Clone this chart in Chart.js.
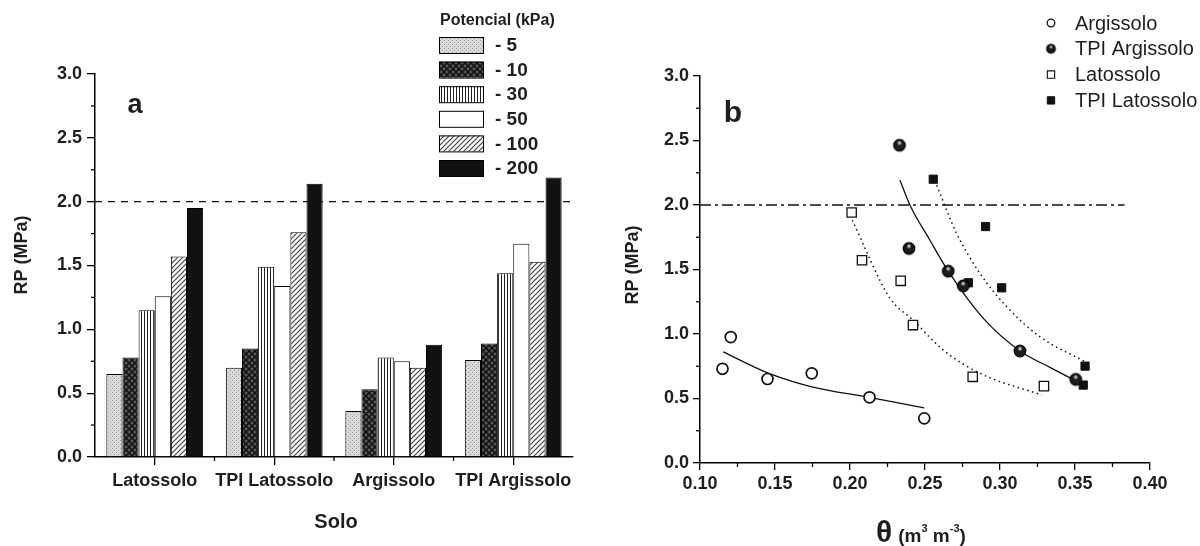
<!DOCTYPE html>
<html lang="pt">
<head>
<meta charset="UTF-8">
<title>Resistência à penetração</title>
<script src="https://cdn.jsdelivr.net/npm/chart.js"></script>
<style>
  body { margin: 0; background: #fff; }
  #wrap { position: relative; width: 1200px; height: 546px; }
  #wrap canvas { position: absolute; top: 0; }
</style>
</head>
<body>
<div id="wrap">
  <canvas id="chartA" width="600" height="546" style="left:0"></canvas>
  <canvas id="chartB" width="600" height="546" style="left:600px"></canvas>
</div>
<script>
// ---- painel a: RP por solo e potencial
const solos = ['Latossolo', 'TPI Latossolo', 'Argissolo', 'TPI Argissolo'];
const potenciais = ['- 5', '- 10', '- 30', '- 50', '- 100', '- 200'];
const rp5   = [0.65, 0.70, 0.36, 0.76];
const rp10  = [0.78, 0.85, 0.53, 0.89];
const rp30  = [1.15, 1.49, 0.78, 1.44];
const rp50  = [1.26, 1.34, 0.75, 1.67];
const rp100 = [1.57, 1.76, 0.70, 1.53];
const rp200 = [1.95, 2.14, 0.88, 2.19];
const rpTickLabels = ['0.0', '0.5', '1.0', '1.5', '2.0', '2.5', '3.0'];
const limiteRP = 2.0;

// ---- painel b: RP x umidade
const argTheta = [0.115, 0.1205, 0.145, 0.1745, 0.213, 0.2495];
const argRP    = [0.73, 0.976, 0.651, 0.695, 0.509, 0.346];
const tpiArgTheta = [0.233, 0.2393, 0.2655, 0.2755, 0.3133, 0.3505];
const tpiArgRP    = [2.463, 1.663, 1.487, 1.373, 0.868, 0.648];
const latTheta = [0.2011, 0.208, 0.2338, 0.242, 0.2818, 0.3293];
const latRP    = [1.942, 1.572, 1.412, 1.069, 0.668, 0.596];
const tpiLatTheta = [0.2555, 0.2904, 0.3011, 0.2789, 0.3567, 0.3555];
const tpiLatRP    = [2.2, 1.833, 1.358, 1.397, 0.751, 0.604];

// curvas ajustadas
const argFitTheta = [0.1155, 0.1451, 0.1745, 0.2129, 0.2495];
const argFitRP    = [0.862, 0.699, 0.591, 0.509, 0.428];
const tpiArgFitTheta = [0.2333, 0.24, 0.2533, 0.2655, 0.2889, 0.3133, 0.3333, 0.3505];
const tpiArgFitRP    = [2.192, 1.998, 1.727, 1.487, 1.121, 0.868, 0.741, 0.637];
const latFitTheta = [0.2015, 0.2267, 0.242, 0.2622, 0.2867, 0.3278];
const latFitRP    = [1.882, 1.276, 1.108, 0.875, 0.695, 0.527];
const tpiLatFitTheta = [0.2578, 0.2711, 0.2867, 0.3045, 0.3267, 0.3567];
const tpiLatFitRP    = [2.153, 1.779, 1.469, 1.211, 0.978, 0.785];

const thetaTickLabels = ['0.10', '0.15', '0.20', '0.25', '0.30', '0.35', '0.40'];
const limiteTheta = [0.10, 0.383];
const solosB = ['Argissolo', 'TPI Argissolo', 'Latossolo', 'TPI Latossolo'];

const FONT = "'Liberation Sans', Arial, sans-serif";
const INK = '#1e1e1e';

function tile(w, h, draw) {
  const c = document.createElement('canvas');
  c.width = w; c.height = h;
  draw(c.getContext('2d'), w, h);
  return c;
}

function zip(xs, ys) {
  return xs.map((x, i) => ({ x: x, y: ys[i] }));
}

// minor ticks halfway between the major ones
const minorTicks = {
  id: 'minorTicks',
  afterDraw(chart, args, opts) {
    const ctx = chart.ctx;
    const { x, y } = chart.scales;
    ctx.save();
    ctx.strokeStyle = '#000';
    ctx.lineWidth = 1.3;
    for (let i = 0; i < y.ticks.length - 1; i++) {
      const p = (y.getPixelForTick(i) + y.getPixelForTick(i + 1)) / 2;
      ctx.beginPath(); ctx.moveTo(y.right - opts.len, p); ctx.lineTo(y.right, p); ctx.stroke();
    }
    for (let i = 0; i < x.ticks.length - 1; i++) {
      const p = (x.getPixelForTick(i) + x.getPixelForTick(i + 1)) / 2;
      ctx.beginPath(); ctx.moveTo(p, x.top); ctx.lineTo(p, x.top + opts.len); ctx.stroke();
    }
    ctx.restore();
  }
};

// horizontal reference line at RP = 2 MPa
const refLine = {
  id: 'refLine',
  beforeDatasetsDraw(chart, args, opts) {
    const { ctx, chartArea, scales } = chart;
    const py = scales.y.getPixelForValue(limiteRP);
    const x0 = opts.from != null ? scales.x.getPixelForValue(opts.from) : chartArea.left;
    const x1 = opts.to != null ? scales.x.getPixelForValue(opts.to) : chartArea.right;
    ctx.save();
    ctx.strokeStyle = '#111';
    ctx.lineWidth = 1.4;
    ctx.setLineDash(opts.dash);
    ctx.beginPath(); ctx.moveTo(x0, py); ctx.lineTo(x1, py); ctx.stroke();
    ctx.restore();
  }
};

// ================= painel a =================
const ctxA = document.getElementById('chartA').getContext('2d');

const fillsA = [
  ctxA.createPattern(tile(4, 4, (g) => {
    g.fillStyle = '#d9d9d9'; g.fillRect(0, 0, 4, 4);
    g.fillStyle = '#9c9c9c'; g.fillRect(0, 0, 1, 1); g.fillRect(2, 2, 1, 1);
  }), 'repeat'),
  ctxA.createPattern(tile(6, 6, (g) => {
    g.fillStyle = '#555'; g.fillRect(0, 0, 6, 6);
    g.strokeStyle = '#111'; g.lineWidth = 1.5;
    g.beginPath(); g.moveTo(0, 0); g.lineTo(6, 6); g.moveTo(0, 6); g.lineTo(6, 0); g.stroke();
  }), 'repeat'),
  ctxA.createPattern(tile(3, 2, (g) => {
    g.fillStyle = '#fff'; g.fillRect(0, 0, 3, 2);
    g.fillStyle = '#222'; g.fillRect(0, 0, 1, 2);
  }), 'repeat'),
  '#ffffff',
  ctxA.createPattern(tile(5, 5, (g) => {
    g.fillStyle = '#fff'; g.fillRect(0, 0, 5, 5);
    g.strokeStyle = '#444'; g.lineWidth = 1.2;
    g.beginPath(); g.moveTo(-1, 6); g.lineTo(6, -1); g.moveTo(-1, 1); g.lineTo(1, -1); g.moveTo(4, 6); g.lineTo(6, 4); g.stroke();
  }), 'repeat'),
  '#111111'
];

const textA = {
  id: 'textA',
  afterDraw(chart) {
    const ctx = chart.ctx;
    ctx.save();
    ctx.fillStyle = INK;
    ctx.textBaseline = 'middle';
    ctx.textAlign = 'center';
    ctx.font = 'bold 27px ' + FONT;
    ctx.fillText('a', 135, 106);
    ctx.font = 'bold 20px ' + FONT;
    ctx.fillText('Solo', 336, 522);
    ctx.save();
    ctx.translate(22, 255);
    ctx.rotate(-Math.PI / 2);
    ctx.font = 'bold 18px ' + FONT;
    ctx.fillText('RP (MPa)', 0, 0);
    ctx.restore();

    // legenda
    ctx.textAlign = 'left';
    ctx.font = 'bold 16px ' + FONT;
    ctx.fillText('Potencial (kPa)', 440, 21);
    ctx.font = 'bold 19px ' + FONT;
    chart.data.datasets.forEach((ds, i) => {
      const cy = 45 + i * 24.6;
      ctx.fillStyle = ds.backgroundColor;
      ctx.fillRect(439, cy - 8, 44, 16);
      ctx.strokeStyle = '#000';
      ctx.lineWidth = 1;
      ctx.strokeRect(439.5, cy - 7.5, 44, 16);
      ctx.fillStyle = INK;
      ctx.fillText(ds.label, 495, cy + 1);
    });
    ctx.restore();
  }
};

new Chart(ctxA, {
  type: 'bar',
  data: {
    labels: solos,
    datasets: [rp5, rp10, rp30, rp50, rp100, rp200].map((vals, i) => ({
      label: potenciais[i],
      data: vals,
      backgroundColor: fillsA[i],
      borderColor: '#000',
      borderWidth: 1,
      categoryPercentage: 0.81,
      barPercentage: 1.0
    }))
  },
  options: {
    responsive: false,
    animation: false,
    layout: { padding: { top: 74, right: 27, left: 0, bottom: 0 } },
    plugins: {
      legend: { display: false },
      tooltip: { enabled: false },
      minorTicks: { len: 4 },
      refLine: { dash: [7, 6] }
    },
    scales: {
      x: {
        grid: { drawOnChartArea: false, offset: false, tickLength: 8, color: '#000', lineWidth: 1.3 },
        border: { color: '#000', width: 1.5 },
        ticks: { font: { family: FONT, size: 18, weight: 'bold' }, color: INK, padding: 5, maxRotation: 0, autoSkip: false },
        afterFit(s) { s.height = 89; }
      },
      y: {
        min: 0, max: 3,
        grid: { drawOnChartArea: false, tickLength: 8, color: '#000', lineWidth: 1.3 },
        border: { color: '#000', width: 1.5 },
        ticks: { stepSize: 0.5, callback: (v, i) => rpTickLabels[i], font: { family: FONT, size: 18, weight: 'bold' }, color: INK, padding: 5 },
        afterFit(s) { s.width = 95; }
      }
    }
  },
  plugins: [refLine, minorTicks, textA]
});

// ================= painel b =================
const ctxB = document.getElementById('chartB').getContext('2d');

function sphere(r) {
  const s = Math.ceil(r * 2 + 4);
  return tile(s, s, (g) => {
    const c = s / 2;
    g.beginPath(); g.arc(c, c, r, 0, Math.PI * 2);
    g.fillStyle = '#1c1c1c'; g.fill();
    g.lineWidth = 1.2; g.strokeStyle = '#000'; g.stroke();
    const hy = c - r * 0.4, hr = r * 0.45;
    const hl = g.createRadialGradient(c, hy, 0, c, hy, hr);
    hl.addColorStop(0, 'rgba(255,255,255,1)');
    hl.addColorStop(1, 'rgba(255,255,255,0)');
    g.fillStyle = hl;
    g.beginPath(); g.arc(c, hy, hr, 0, Math.PI * 2); g.fill();
  });
}

const markers = [
  { pointStyle: 'circle', pointRadius: 5.5, pointBorderWidth: 1.7, pointBorderColor: '#111', pointBackgroundColor: '#fff' },
  { pointStyle: sphere(5.8), pointRadius: 6, pointBorderWidth: 0, pointBorderColor: '#111', pointBackgroundColor: '#222' },
  { pointStyle: 'rect', pointRadius: 6.6, pointBorderWidth: 1.3, pointBorderColor: '#111', pointBackgroundColor: '#fff' },
  { pointStyle: 'rect', pointRadius: 5.8, pointBorderWidth: 1, pointBorderColor: '#111', pointBackgroundColor: '#111' }
];

function pointSet(label, xs, ys, m) {
  return Object.assign({ label: label, data: zip(xs, ys), showLine: false }, m);
}

function fitSet(xs, ys, dash) {
  return {
    label: 'ajuste',
    data: zip(xs, ys),
    showLine: true,
    pointRadius: 0,
    borderColor: '#111',
    borderWidth: dash.length ? 1.5 : 1.3,
    borderDash: dash,
    cubicInterpolationMode: 'monotone',
    fill: false
  };
}

const textB = {
  id: 'textB',
  afterDraw(chart) {
    const ctx = chart.ctx;
    ctx.save();
    ctx.fillStyle = INK;
    ctx.textBaseline = 'middle';
    ctx.textAlign = 'center';
    ctx.font = 'bold 30px ' + FONT;
    ctx.fillText('b', 133, 114);
    ctx.save();
    ctx.translate(33, 265);
    ctx.rotate(-Math.PI / 2);
    ctx.font = 'bold 18px ' + FONT;
    ctx.fillText('RP (MPa)', 0, 0);
    ctx.restore();

    // título do eixo x: θ (m³ m⁻³)
    ctx.textAlign = 'left';
    ctx.textBaseline = 'alphabetic';
    let x = 276, base = 542;
    const part = (t, size, dy) => {
      ctx.font = 'bold ' + size + 'px ' + FONT;
      ctx.fillText(t, x, base + dy);
      x += ctx.measureText(t).width;
    };
    part('θ', 30, 0);
    x += 6;
    part('(m', 19, 0);
    part('3', 11, -10);
    part(' m', 19, 0);
    part('-3', 11, -10);
    part(')', 19, 0);

    // legenda
    ctx.textBaseline = 'middle';
    ctx.font = '20px ' + FONT;
    const legendMarkers = [
      { style: 'circle', r: 3.8, bw: 1.3, bg: '#fff' },
      { style: sphere(4.3), r: 4.5, bw: 0, bg: '#222' },
      { style: 'rect', r: 5.2, bw: 1.1, bg: '#fff' },
      { style: 'rect', r: 5.2, bw: 1, bg: '#111' }
    ];
    solosB.forEach((name, i) => {
      const cy = 23 + i * 25.8;
      const m = legendMarkers[i];
      ctx.fillStyle = m.bg;
      ctx.strokeStyle = '#111';
      ctx.lineWidth = m.bw;
      Chart.helpers.drawPoint(ctx, { pointStyle: m.style, radius: m.r, borderWidth: m.bw, rotation: 0 }, 451, cy);
      ctx.fillStyle = INK;
      ctx.fillText(name, 475, cy + 1);
    });
    ctx.restore();
  }
};

new Chart(ctxB, {
  type: 'scatter',
  data: {
    datasets: [
      pointSet(solosB[0], argTheta, argRP, markers[0]),
      pointSet(solosB[1], tpiArgTheta, tpiArgRP, markers[1]),
      pointSet(solosB[2], latTheta, latRP, markers[2]),
      pointSet(solosB[3], tpiLatTheta, tpiLatRP, markers[3]),
      fitSet(argFitTheta, argFitRP, []),
      fitSet(tpiArgFitTheta, tpiArgFitRP, []),
      fitSet(latFitTheta, latFitRP, [1.5, 3.5]),
      fitSet(tpiLatFitTheta, tpiLatFitRP, [1.5, 3.5])
    ]
  },
  options: {
    responsive: false,
    animation: false,
    layout: { padding: { top: 76, right: 50, left: 0, bottom: 0 } },
    plugins: {
      legend: { display: false },
      tooltip: { enabled: false },
      minorTicks: { len: 4 },
      refLine: { dash: [11, 4, 3, 4], from: limiteTheta[0], to: limiteTheta[1] }
    },
    scales: {
      x: {
        type: 'linear',
        min: 0.10, max: 0.40,
        grid: { drawOnChartArea: false, tickLength: 7, color: '#000', lineWidth: 1.3 },
        border: { color: '#000', width: 1.5 },
        ticks: { stepSize: 0.05, callback: (v, i) => thetaTickLabels[i], font: { family: FONT, size: 18, weight: 'bold' }, color: INK, padding: 3, maxRotation: 0 },
        afterFit(s) { s.height = 83; }
      },
      y: {
        min: 0, max: 3,
        grid: { drawOnChartArea: false, tickLength: 7, color: '#000', lineWidth: 1.3 },
        border: { color: '#000', width: 1.5 },
        ticks: { stepSize: 0.5, callback: (v, i) => rpTickLabels[i], font: { family: FONT, size: 18, weight: 'bold' }, color: INK, padding: 4 },
        afterFit(s) { s.width = 100; }
      }
    }
  },
  plugins: [refLine, minorTicks, textB]
});
</script>
</body>
</html>
